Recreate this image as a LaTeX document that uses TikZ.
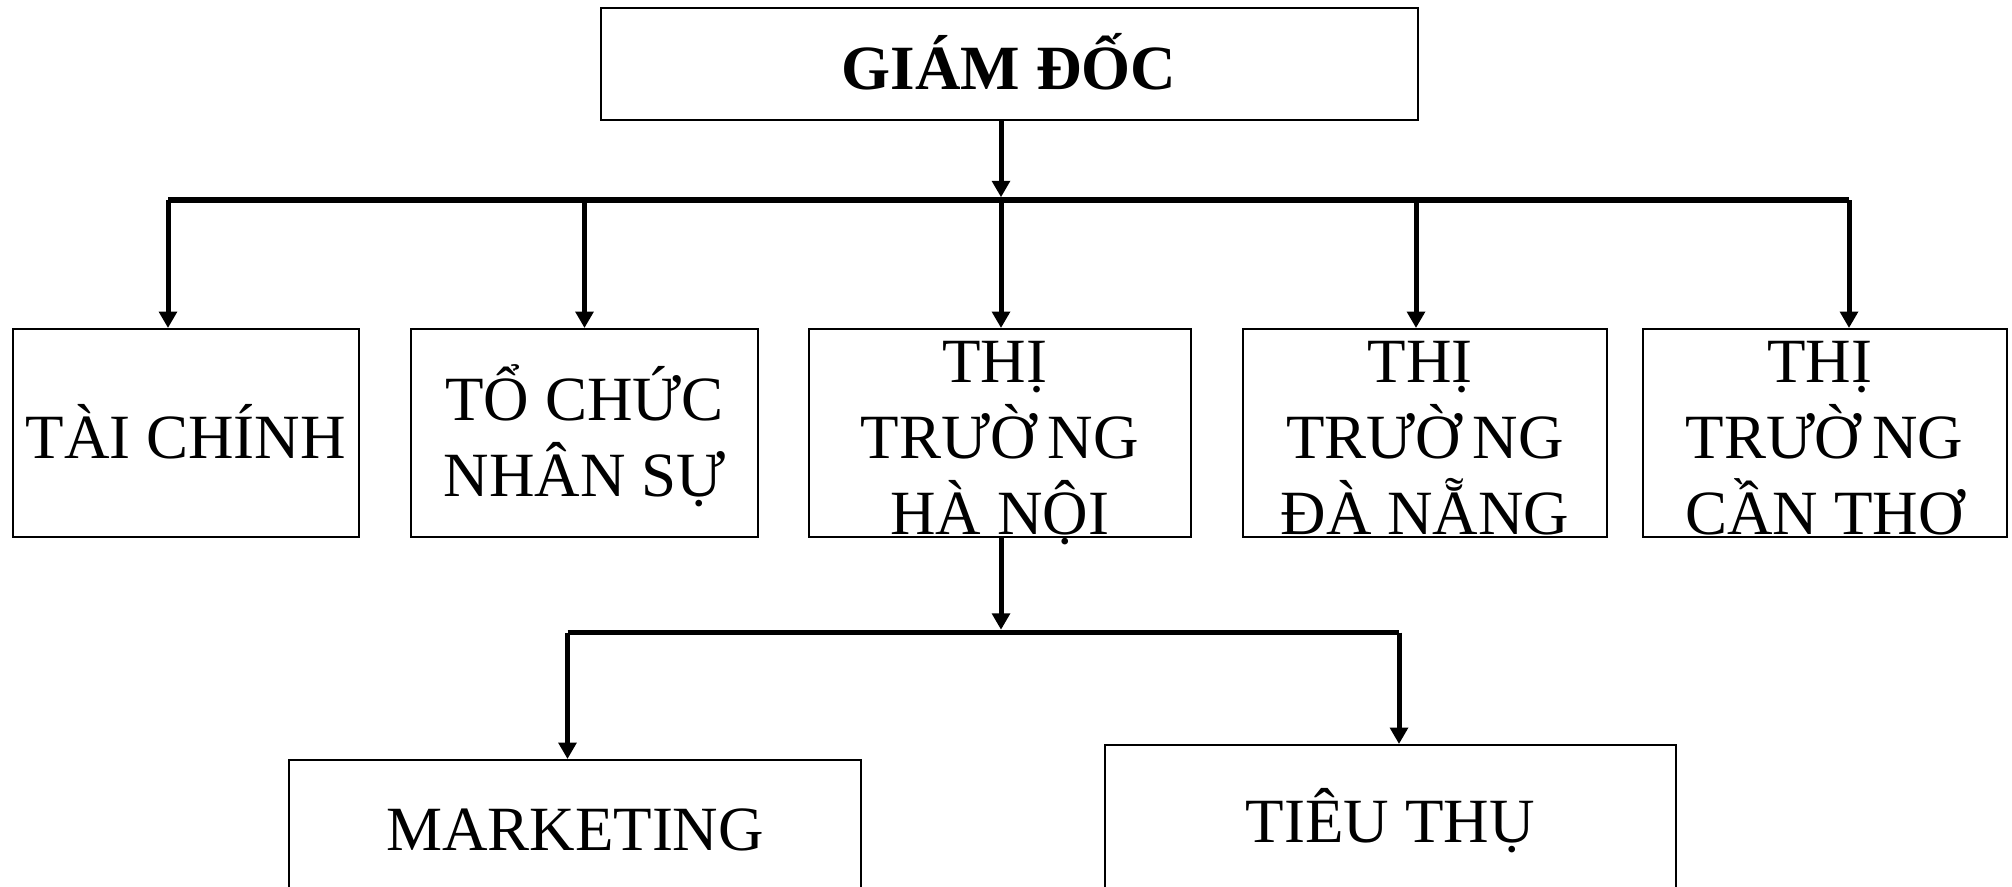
\documentclass[tikz,border=0pt]{standalone}
\usepackage{fontspec}
\setmainfont{Liberation Serif}
\usetikzlibrary{arrows.meta}
% one text line: fixed height and depth, so blocks of lines centre evenly
\newcommand{\lineslot}{\vrule height 63.5pt depth 12.5pt width 0pt}
% the three market boxes share the same first two lines
\newcommand{\marketlines}{\lineslot THỊ\kern10pt\\\lineslot TRƯỜ\kern12pt NG}

\begin{document}
\begin{tikzpicture}[x=1pt,y=-1pt,
  box/.style={draw=black, line width=2pt, rectangle, inner sep=0pt},
  boxtext/.style={inner sep=0pt, align=center, font=\fontsize{63}{76}\selectfont},
  link/.style={line width=5pt, -{Triangle[length=16.5pt,width=17.7pt]}},
  rail/.style={line width=5.5pt},
]
\useasboundingbox (0,0) rectangle (2012,886);
\clip (0,0) rectangle (2012,886);

% boxes
\node[box, minimum width=817pt, minimum height=112pt] (gd) at (1009,64) {};
\node[box, minimum width=346.5pt, minimum height=208pt] (tc) at (185.75,433) {};
\node[box, minimum width=347pt, minimum height=208pt] (ns) at (584.5,433) {};
\node[box, minimum width=381.5pt, minimum height=208pt] (hn) at (999.75,433) {};
\node[box, minimum width=364pt, minimum height=208pt] (dn) at (1425,433) {};
\node[box, minimum width=364pt, minimum height=208pt] (ct) at (1824.5,433) {};
\node[box, minimum width=572pt, minimum height=129pt] (mk) at (575,824.5) {};
\node[box, minimum width=571.5pt, minimum height=143pt] (tt) at (1390.25,816.5) {};

% texts
\node[boxtext, font=\fontsize{63}{76}\selectfont\bfseries] (gdt) at (gd.center) {\lineslot GIÁM ĐỐC};
\node[boxtext] (tct) at (tc.center) {\lineslot TÀI CHÍNH};
\node[boxtext] (nst) at (ns.center) {\lineslot TỔ CHỨC\\\lineslot NHÂN SỰ};
\node[boxtext] (hnt) at (hn.center) {\marketlines\\\lineslot HÀ NỘI};
\node[boxtext] (dnt) at (dn.center) {\marketlines\\\lineslot ĐÀ NẴNG};
\node[boxtext] (ctt) at (ct.center) {\marketlines\\\lineslot CẦN THƠ};
\node[boxtext] (mkt) at (mk.center) {\lineslot MARKETING};
\node[boxtext] (ttt) at (tt.center) {\lineslot TIÊU THỤ};

% first level rail
\coordinate (r1a) at (168,200);
\coordinate (r1h) at (1001,200);
\coordinate (r1d) at (1416,200);
\coordinate (r1b) at (1849,200);
\draw[rail] (r1a) -- (r1b);
\draw[link, shorten >=2.75pt] (gd.south -| r1h) -- (r1h);
\draw[link] (r1a) -- (tc.north -| r1a);
\draw[link] (ns.north |- r1a) -- (ns.north);
\draw[link] (r1h) -- (hn.north -| r1h);
\draw[link] (r1d) -- (dn.north -| r1d);
\draw[link] (r1b) -- (ct.north -| r1b);

% second level rail
\coordinate (r2a) at (567.5,632.5);
\coordinate (r2h) at (1001,632.5);
\coordinate (r2b) at (1399,632.5);
\draw[rail] (r2a) -- (r2b);
\draw[link, shorten >=2.75pt] (hn.south -| r2h) -- (r2h);
\draw[link] (r2a) -- (mk.north -| r2a);
\draw[link] (r2b) -- (tt.north -| r2b);
\end{tikzpicture}
\end{document}
